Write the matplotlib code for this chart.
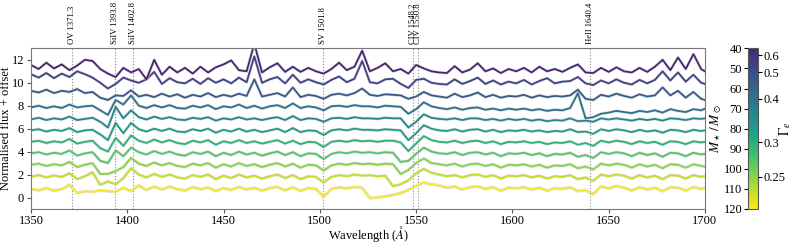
import numpy as np
import matplotlib
matplotlib.use("Agg")
import matplotlib.pyplot as plt
from matplotlib.colors import ListedColormap, Normalize
from matplotlib.cm import ScalarMappable
import matplotlib.patheffects as pe

plt.rcParams['font.family'] = ['Liberation Serif', 'DejaVu Serif']
plt.rcParams['mathtext.fontset'] = 'stix'

# wavelength grid (Angstrom)
wavelength = list(range(1350, 1699, 4)) + [1700]

# stellar masses of the models (bottom to top)
masses = [120, 112, 104, 96, 88, 80, 72, 64, 56, 48, 40]

# normalised flux + offset, bottom (120 Msun) to top (40 Msun)
flux_120 = [0.75, 0.62, 0.82, 0.6, 0.72, 1.1, 0.4, 0.55, 0.5, 0.62,
            0.55, 0.5, 0.85, 0.55, 1.05, 0.65, 0.95, 0.7, 0.95, 0.72,
            0.6, 0.9, 0.72, 0.88, 0.55, 0.82, 0.65, 0.92, 0.7, 0.85,
            0.6, 0.82, 0.92, 0.62, 0.88, 0.58, 0.82, 0.75,
            0.05, 0.75, 0.88, 0.8, 0.92, 0.85,
            -0.05, 0.0, 0.1, 0.22, 0.38, 0.65, 1.0, 1.3, 1.15, 1.05,
            0.85, 0.95, 0.7, 0.9, 0.95, 0.75, 0.9, 0.6, 0.85, 0.8,
            0.9, 0.7, 0.85, 0.6, 0.8, 0.75, 0.9, 0.55, 0.65, 0.3,
            0.95, 0.8, 1.0, 0.85, 0.6, 0.9, 0.7, 0.85, 0.55, 0.9,
            0.85, 0.6, 0.9, 0.75, 0.8]
flux_112 = [1.8, 1.95, 1.75, 1.92, 1.8, 2.1, 1.6, 1.85, 2.2, 1.1,
            1.4, 1.15, 1.7, 2.55, 2.0, 1.75, 2.05, 1.8, 2.0, 1.75,
            1.65, 1.95, 1.8, 2.0, 1.6, 1.9, 1.7, 2.0, 1.75, 1.9,
            1.65, 1.85, 2.0, 1.7, 1.95, 1.6, 1.85, 1.8,
            1.3, 1.8, 1.95, 1.85, 2.0, 1.9,
            1.95, 1.85, 1.9, 1.0, 1.15, 1.5, 2.1, 2.5, 2.15, 2.0,
            1.85, 1.95, 1.75, 1.95, 2.0, 1.8, 1.95, 1.65, 1.9, 1.85,
            1.95, 1.75, 1.9, 1.65, 1.85, 1.8, 1.95, 1.6, 1.75, 1.45,
            2.0, 1.85, 2.0, 1.9, 1.65, 1.95, 1.75, 1.9, 1.6, 1.95,
            1.9, 1.65, 1.95, 1.8, 1.85]
flux_104 = [2.85, 2.95, 2.75, 2.9, 2.8, 3.1, 2.65, 2.85, 3.0, 2.05,
            2.05, 2.3, 2.65, 3.45, 2.95, 2.75, 3.05, 2.8, 3.0, 2.75,
            2.65, 2.95, 2.8, 3.0, 2.6, 2.9, 2.7, 3.0, 2.75, 2.9,
            2.65, 2.85, 3.0, 2.7, 2.95, 2.6, 2.85, 2.8,
            2.35, 2.8, 2.95, 2.85, 3.0, 2.9,
            2.95, 2.85, 2.95, 2.9, 2.05, 2.4, 3.0, 3.4, 3.0, 2.9,
            2.8, 2.95, 2.7, 2.9, 2.95, 2.75, 2.9, 2.6, 2.85, 2.8,
            2.9, 2.7, 2.85, 2.6, 2.8, 2.75, 2.9, 2.55, 2.7, 2.45,
            2.95, 2.8, 2.95, 2.85, 2.6, 2.9, 2.7, 2.85, 2.55, 2.9,
            2.85, 2.6, 2.9, 2.75, 2.7]
flux_96 = [3.85, 3.95, 3.75, 3.9, 3.8, 4.1, 3.65, 3.85, 3.95, 3.2,
           3.0, 4.1, 3.6, 4.35, 3.95, 3.75, 4.05, 3.8, 4.0, 3.75,
           3.65, 3.95, 3.8, 4.0, 3.6, 3.9, 3.7, 4.0, 3.75, 3.9,
           3.65, 3.85, 4.0, 3.7, 3.95, 3.6, 3.85, 3.8,
           3.35, 3.8, 3.95, 3.85, 4.0, 3.9,
           3.95, 3.85, 3.95, 3.9, 3.1, 3.2, 3.8, 4.35, 4.0, 3.85,
           3.8, 3.95, 3.7, 3.9, 3.95, 3.75, 3.9, 3.6, 3.85, 3.8,
           3.9, 3.7, 3.85, 3.6, 3.8, 3.75, 3.9, 3.55, 3.7, 3.45,
           3.95, 3.8, 3.95, 3.85, 3.6, 3.9, 3.7, 3.85, 3.55, 3.9,
           3.85, 3.6, 3.9, 3.75, 3.8]
flux_88 = [4.85, 4.95, 4.75, 4.9, 4.8, 5.1, 4.7, 4.85, 4.95, 4.3,
           4.0, 5.2, 4.5, 5.4, 4.95, 4.75, 5.05, 4.8, 5.0, 4.75,
           4.65, 4.95, 4.8, 5.0, 4.6, 4.9, 4.75, 5.0, 4.75, 4.9,
           4.7, 4.85, 5.0, 4.7, 4.95, 4.65, 4.85, 4.8,
           4.4, 4.85, 4.95, 4.85, 5.0, 4.9,
           4.95, 4.85, 4.95, 4.95, 4.8, 4.05, 4.7, 5.35, 5.0, 4.85,
           4.8, 4.95, 4.75, 4.9, 4.95, 4.75, 4.9, 4.65, 4.85, 4.8,
           4.9, 4.75, 4.85, 4.65, 4.8, 4.75, 4.9, 4.6, 4.75, 4.5,
           4.95, 4.8, 4.95, 4.85, 4.65, 4.9, 4.75, 4.85, 4.6, 4.9,
           4.85, 4.65, 4.9, 4.8, 4.85]
flux_80 = [5.85, 5.95, 5.75, 5.9, 5.8, 6.05, 5.7, 5.85, 5.9, 5.5,
           5.0, 6.5, 5.6, 6.5, 5.95, 5.75, 6.0, 5.8, 6.0, 5.75,
           5.7, 5.95, 5.8, 6.0, 5.65, 5.9, 5.75, 6.0, 5.75, 5.9,
           5.7, 5.85, 6.0, 5.7, 6.05, 5.7, 5.85, 5.8,
           5.45, 5.85, 5.95, 5.85, 6.0, 5.9,
           5.9, 5.85, 5.95, 5.9, 5.85, 5.0, 5.6, 6.3, 6.0, 5.85,
           5.8, 5.95, 5.75, 5.9, 5.95, 5.75, 5.9, 5.7, 5.85, 5.8,
           5.9, 5.75, 5.85, 5.7, 5.8, 5.75, 5.95, 5.7, 5.75, 5.55,
           5.95, 5.8, 5.95, 5.85, 5.7, 5.9, 5.75, 5.85, 5.65, 5.9,
           5.85, 5.7, 5.9, 5.8, 5.85]
flux_72 = [6.8, 6.95, 6.75, 6.9, 6.8, 7.05, 6.75, 6.85, 6.95, 6.6,
           6.1, 7.9, 6.9, 7.6, 7.0, 6.8, 7.05, 6.85, 7.0, 6.8,
           6.75, 6.95, 6.85, 7.0, 6.7, 6.9, 6.8, 7.0, 6.8, 6.9,
           6.75, 6.9, 7.0, 6.75, 7.1, 6.75, 6.9, 6.85,
           6.6, 6.9, 6.95, 6.85, 7.0, 6.9,
           6.9, 6.85, 6.95, 6.9, 6.9, 6.1, 6.6, 7.25, 6.95, 6.85,
           6.8, 6.9, 6.75, 6.9, 6.9, 6.75, 6.85, 6.7, 6.85, 6.75,
           6.85, 6.7, 6.8, 6.65, 6.75, 6.7, 6.9, 6.65, 6.7, 6.6,
           6.9, 6.8, 6.9, 6.8, 6.7, 6.85, 6.75, 6.85, 6.7, 6.9,
           6.85, 6.75, 6.9, 6.85, 6.9]
flux_64 = [7.85, 8.0, 7.8, 7.95, 7.8, 8.1, 7.85, 7.95, 8.0, 7.6,
           7.2, 8.5, 8.1, 8.9, 8.0, 7.8, 8.05, 7.85, 8.05, 7.8,
           7.75, 8.0, 7.85, 8.05, 7.7, 7.95, 7.85, 8.1, 7.8, 8.0,
           7.75, 7.95, 8.05, 7.8, 8.2, 7.8, 7.95, 7.85,
           7.6, 7.95, 8.0, 7.9, 8.05, 7.95,
           7.95, 7.85, 8.0, 7.95, 7.9, 7.3, 7.7, 8.3, 7.95, 7.8,
           7.7, 7.85, 7.65, 7.8, 7.85, 7.65, 7.75, 7.6, 7.75, 7.65,
           7.75, 7.6, 7.7, 7.55, 7.65, 7.6, 7.8, 9.1, 6.9, 7.0,
           7.3, 7.4, 7.55, 7.45, 7.35, 7.55, 7.45, 7.6, 7.4, 7.7,
           7.55, 7.45, 7.7, 7.6, 7.75]
flux_56 = [9.3, 9.15, 9.4, 9.1, 9.3, 9.2, 9.45, 9.1, 9.2, 8.7,
           8.5, 8.9, 8.85, 9.35, 8.8, 8.95, 8.75, 9.05, 8.8, 9.0,
           8.7, 8.95, 8.8, 9.1, 8.75, 8.95, 8.8, 9.05, 8.85, 10.3,
           8.8, 8.95, 9.1, 8.8, 9.6, 8.75, 8.95, 8.85,
           8.6, 8.95, 9.05, 8.9, 9.1, 9.5,
           8.95, 8.85, 9.0, 8.95, 8.9, 8.6, 8.8, 9.2, 8.9, 8.8,
           8.7, 9.05, 8.75, 8.9, 9.15, 8.75, 8.95, 8.7, 8.85, 8.8,
           8.95, 8.7, 8.9, 8.75, 8.85, 8.8, 8.9, 9.4, 8.6, 8.5,
           8.95, 8.8, 9.05, 8.85, 8.7, 9.0, 8.8, 8.9, 9.6, 8.9,
           9.3, 8.7, 9.2, 8.6, 8.5]
flux_48 = [10.75, 10.45, 10.85, 10.4, 10.8, 10.5, 11.0, 10.75, 10.45, 10.0,
           9.5, 9.9, 10.45, 10.2, 10.0, 10.3, 10.95, 9.9, 10.4, 10.05,
           9.95, 10.35, 9.9, 10.4, 10.0, 10.3, 9.95, 10.45, 10.05, 12.3,
           10.0, 10.3, 10.5, 9.95, 10.7, 10.0, 10.3, 10.05,
           9.85, 10.25, 10.55, 10.05, 10.35, 11.9,
           10.05, 9.95, 10.3, 10.35, 9.9, 9.55, 10.25, 10.35, 10.0, 9.9,
           9.85, 10.3, 9.9, 10.15, 10.45, 9.9, 10.2, 9.85, 10.1, 9.95,
           10.25, 9.85, 10.15, 10.4, 9.95, 10.1, 10.15, 10.5, 9.95, 9.8,
           10.2, 9.95, 10.3, 10.0, 9.85, 10.25, 9.95, 10.25, 11.0, 10.2,
           10.9, 10.1, 10.7, 10.0, 9.9]
flux_40 = [11.55, 11.2, 11.75, 11.25, 11.6, 11.1, 11.5, 12.0, 11.9, 11.2,
           10.8, 10.5, 11.3, 10.9, 11.2, 10.3, 12.0, 10.7, 11.4, 10.9,
           11.3, 10.8, 11.4, 10.9, 11.35, 11.6, 11.95, 11.1, 11.0, 13.4,
           10.9, 11.35, 11.7, 10.95, 11.4, 10.95, 11.3, 11.0,
           10.8, 11.2, 11.75, 11.1, 11.4, 12.8,
           11.0, 11.3, 11.7, 11.0, 11.2, 10.8, 11.55, 11.25, 11.0, 10.9,
           10.85, 11.45, 10.9, 11.15, 11.7, 11.0, 11.25, 10.85, 11.2, 11.0,
           11.3, 10.9, 11.4, 11.0, 11.2, 10.95, 11.3, 11.6, 10.9, 10.85,
           11.3, 10.95, 11.35, 11.0, 10.9, 11.3, 10.95, 11.4, 12.0, 11.1,
           12.2, 11.2, 12.5, 11.2, 11.0]

spectra = [flux_120, flux_112, flux_104, flux_96, flux_88, flux_80,
           flux_72, flux_64, flux_56, flux_48, flux_40]

# line identifications
line_names = ['OV 1371.3', 'SiIV 1393.8', 'SiIV 1402.8', 'SV 1501.8',
              'CIV 1548.2', 'CIV 1550.8', 'HeII 1640.4']
line_waves = [1371.3, 1393.8, 1402.8, 1501.8, 1548.2, 1550.8, 1640.4]

# Eddington factor ticks on colour bar (Gamma_e = const / M)
gamma_ticks = [0.25, 0.3, 0.4, 0.5, 0.6]
gamma_const = 26.0

base = plt.get_cmap('viridis')
cmap = ListedColormap(base(np.linspace(0.1, 1.0, 256)))
norm = Normalize(vmin=40, vmax=120)

fig = plt.figure(figsize=(7.93, 2.43), dpi=100)
ax = fig.add_axes([0.039, 0.14, 0.850, 0.661])

for m, f in zip(masses, spectra):
    ax.plot(wavelength, f, color=cmap(norm(m)), lw=1.3, solid_joinstyle='round',
            path_effects=[pe.Stroke(linewidth=2.3, foreground='#cfcfcf', alpha=0.6), pe.Normal()])

for w, name in zip(line_waves, line_names):
    ax.axvline(w, color='#888888', ls=':', lw=0.8, zorder=0)
    ax.text(w, 1.025, name, transform=ax.get_xaxis_transform(), rotation=90,
            ha='center', va='bottom', fontsize=6.2)

ax.set_xlim(1350, 1700)
ax.set_ylim(-1, 13)
ax.set_xticks([1350, 1400, 1450, 1500, 1550, 1600, 1650, 1700])
ax.set_yticks([0, 2, 4, 6, 8, 10, 12])
ax.tick_params(labelsize=9, length=3, pad=2, color='#555555')
ax.tick_params(axis='x', pad=1.5)
for s in ax.spines.values():
    s.set_color('#777777')
ax.set_xlabel(r'Wavelength ($\AA$)', fontsize=9)
ax.xaxis.set_label_coords(0.5, -0.095)
ax.set_ylabel('Normalised flux + offset', fontsize=9)
ax.yaxis.set_label_coords(-0.028, 0.5)

cax = fig.add_axes([0.943, 0.14, 0.0126, 0.661])
sm = ScalarMappable(norm=norm, cmap=cmap)
cb = fig.colorbar(sm, cax=cax)
cb.outline.set_edgecolor('#555555')
cax.invert_yaxis()
cax.yaxis.set_ticks_position('left')
cax.yaxis.set_label_position('left')
cax.set_yticks([40, 50, 60, 70, 80, 90, 100, 110, 120])
cax.tick_params(labelsize=9, length=3, pad=1)
cax.set_ylabel(r'$M_\star\,/\,M_\odot$', fontsize=9.5)
cax.yaxis.set_label_coords(-2.35, 0.5)

cax2 = cax.twinx()
cax2.set_ylim(cax.get_ylim())
cax2.set_yticks([gamma_const / g for g in gamma_ticks])
cax2.set_yticklabels([f'{g:g}' for g in gamma_ticks])
cax2.tick_params(labelsize=9, length=3, pad=1)
cax2.set_ylabel(r'$\Gamma_e$', fontsize=10)
cax2.yaxis.set_label_coords(2.95, 0.5)
for s in cax2.spines.values():
    s.set_visible(False)

fig.savefig('out.png', dpi=100)
